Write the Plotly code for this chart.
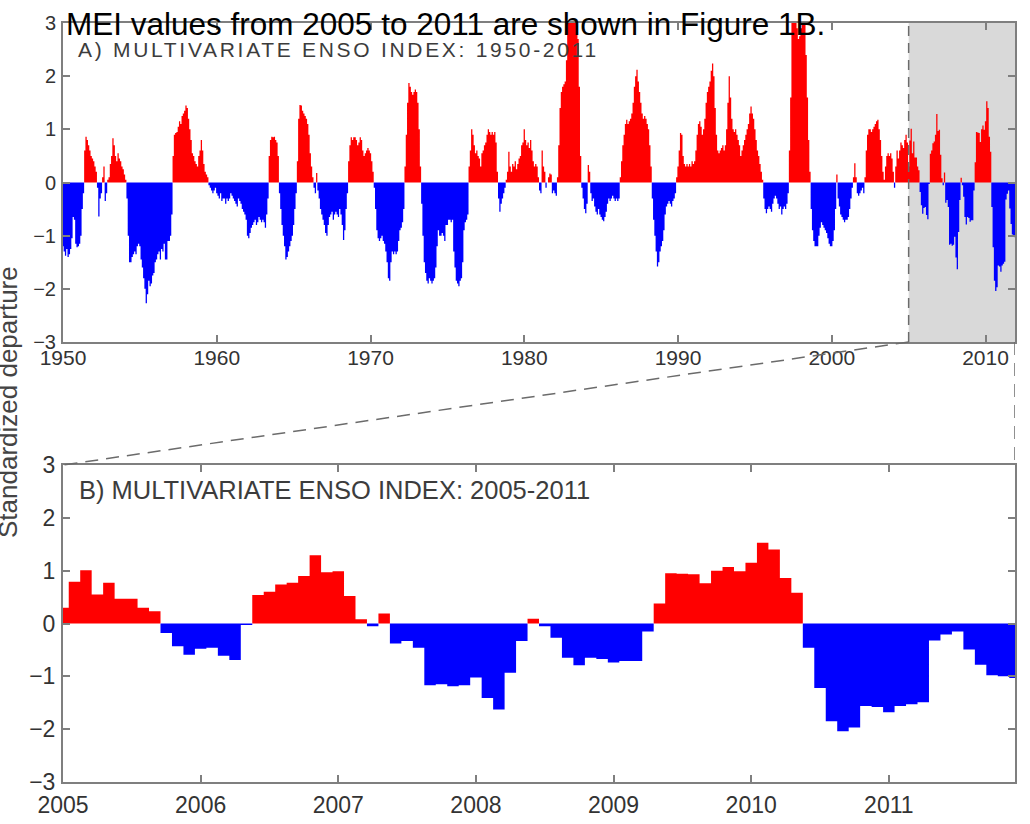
import numpy as np
import plotly.graph_objects as go

# ---------------- data (monthly MEI) ----------------
mei_1950s = [
    -1.20, -1.30, -1.38, -1.25, -1.40, -1.35, -1.25, -1.05, -0.65, -0.70, -1.15, -1.22,
    -1.20, -1.15, -1.00, -0.50, -0.20, 0.60, 0.86, 0.80, 0.70, 0.60, 0.50, 0.45,
    0.40, 0.30, 0.20, -0.10, -0.64, -0.30, -0.20, 0.10, 0.30, -0.35, -0.20, 0.05,
    0.10, 0.35, 0.50, 0.83, 0.70, 0.50, 0.40, 0.55, 0.45, 0.40, 0.30, 0.25,
    0.15, 0.05, -0.30, -1.00, -1.50, -1.50, -1.40, -1.35, -1.30, -1.35, -1.20, -1.15,
    -1.20, -1.45, -1.60, -1.80, -2.00, -2.27, -2.10, -1.85, -1.95, -1.90, -1.75, -1.70,
    -1.50, -1.45, -1.35, -1.30, -1.45, -1.25, -1.30, -1.15, -1.45, -1.45, -1.10, -1.10,
    -1.00, -0.60, 0.50, 0.90, 0.93, 0.95, 1.05, 1.15, 1.10, 1.25, 1.30, 1.35,
    1.45, 1.40, 1.20, 1.00, 0.80, 0.55, 0.50, 0.40, 0.35, 0.30, 0.50, 0.60,
    0.80, 0.60, 0.35, 0.20, 0.15, 0.10, -0.05, -0.10, -0.15, -0.20, -0.15, -0.10,
]
mei_1960s = [
    -0.20, -0.25, -0.30, -0.20, -0.35, -0.30, -0.30, -0.40, -0.30, -0.35, -0.30, -0.20,
    -0.25, -0.30, -0.35, -0.40, -0.45, -0.30, -0.35, -0.40, -0.50, -0.55, -0.60, -0.70,
    -1.00, -1.05, -0.95, -0.85, -0.80, -0.75, -0.70, -0.80, -0.75, -0.65, -0.70, -0.75,
    -0.70, -0.75, -0.85, -0.60, -0.30, 0.50, 0.80, 0.86, 0.85, 0.86, 0.80, 0.75,
    0.50, -0.20, -0.50, -0.80, -1.00, -1.20, -1.45, -1.40, -1.30, -1.20, -1.10, -1.00,
    -0.80, -0.50, -0.20, 0.40, 1.20, 1.46, 1.45, 1.35, 1.30, 1.25, 1.20, 1.10,
    0.90, 0.55, 0.30, 0.10, -0.10, -0.20, 0.18, -0.15, -0.30, -0.50, -0.60, -0.70,
    -0.80, -0.95, -1.00, -0.80, -0.65, -0.60, -0.55, -0.70, -0.60, -0.55, -0.60, -0.65,
    -0.50, -0.60, -0.80, -1.08, -0.90, -0.50, -0.20, 0.40, 0.70, 0.85, 0.80, 0.85,
    0.85, 0.80, 0.70, 0.75, 0.85, 0.80, 0.60, 0.50, 0.55, 0.60, 0.65, 0.60,
]
mei_1970s = [
    0.55, 0.40, 0.20, -0.10, -0.50, -0.90, -1.05, -1.10, -1.05, -1.00, -1.10, -1.15,
    -1.30, -1.50, -1.80, -1.85, -1.50, -1.30, -1.35, -1.30, -1.35, -1.30, -1.10, -0.90,
    -0.85, -0.75, -0.50, 0.30, 0.90, 1.50, 1.87, 1.80, 1.70, 1.65, 1.70, 1.75,
    1.70, 1.50, 1.00, 0.30, -0.40, -1.00, -1.50, -1.70, -1.85, -1.90, -1.80, -1.85,
    -1.90, -1.85, -1.80, -1.60, -1.20, -0.90, -1.00, -1.00, -0.95, -1.00, -1.10, -0.80,
    -0.80, -0.70, -0.70, -0.75, -0.70, -1.30, -1.60, -1.85, -1.90, -1.95, -1.85, -1.80,
    -1.50, -0.90, -0.75, -0.70, -0.60, 0.30, 0.60, 1.00, 0.90, 0.70, 0.55, 0.60,
    0.50, 0.45, 0.30, 0.55, 0.60, 0.70, 0.75, 0.90, 1.00, 0.95, 0.90, 0.95,
    0.90, 0.95, 0.75, 0.20, -0.30, -0.55, -0.40, -0.30, -0.20, -0.10, 0.05, 0.20,
    0.58, 0.30, 0.20, 0.35, 0.30, 0.40, 0.25, 0.35, 0.45, 0.50, 0.70, 0.75,
]
mei_1980s = [
    1.00, 0.80, 0.70, 0.75, 0.65, 0.80, 0.60, 0.40, 0.30, 0.35, 0.30, 0.10,
    -0.15, -0.20, 0.60, 0.30, 0.20, -0.10, 0.00, 0.10, 0.17, 0.15, -0.20, -0.15,
    -0.20, -0.25, 0.10, 0.70, 1.40, 1.70, 1.80, 1.85, 1.90, 2.30, 3.00, 3.05,
    3.05, 3.10, 3.10, 3.05, 3.00, 2.95, 2.70, 1.80, 0.50, -0.10, -0.30, -0.50,
    -0.58, -0.40, 0.33, 0.20, -0.20, -0.35, -0.30, -0.45, -0.55, -0.60, -0.50, -0.60,
    -0.65, -0.70, -0.73, -0.65, -0.55, -0.40, -0.30, -0.35, -0.30, -0.25, -0.30, -0.35,
    -0.30, -0.35, -0.30, 0.10, 0.40, 0.70, 0.90, 1.10, 1.18, 1.10, 1.15, 1.20,
    1.30, 1.50, 1.80, 2.00, 2.12, 1.90, 1.70, 1.50, 1.30, 1.20, 1.25, 1.20,
    1.10, 1.00, 0.70, 0.30, -0.30, -0.70, -1.00, -1.30, -1.58, -1.50, -1.30, -1.20,
    -1.10, -0.90, -0.60, -0.45, -0.40, -0.35, -0.40, -0.45, -0.35, -0.30, -0.20, 0.10,
]
mei_1990s = [
    0.30, 0.60, 0.93, 0.90, 0.50, 0.35, 0.30, 0.35, 0.30, 0.35, 0.30, 0.40,
    0.35, 0.40, 0.60, 0.90, 1.10, 1.15, 1.05, 0.90, 1.00, 1.20, 1.50, 1.70,
    1.80, 1.90, 2.10, 2.24, 2.00, 1.40, 0.90, 0.60, 0.55, 0.60, 0.65, 0.70,
    0.60, 0.70, 1.00, 1.50, 2.00, 1.60, 1.20, 1.00, 0.95, 1.00, 0.90, 0.80,
    0.70, 0.50, 0.60, 0.70, 0.80, 0.90, 1.00, 1.10, 1.30, 1.43, 1.30, 1.20,
    1.00, 0.80, 0.60, 0.50, 0.35, 0.20, 0.05, -0.30, -0.50, -0.58, -0.50, -0.45,
    -0.50, -0.55, -0.40, -0.30, -0.25, -0.30, -0.40, -0.50, -0.45, -0.60, -0.50, -0.45,
    -0.50, -0.40, -0.20, 0.60, 1.60, 3.00, 3.05, 3.10, 3.05, 2.90, 2.70, 2.75,
    2.90, 3.05, 3.10, 3.05, 2.40, 1.60, 0.80, 0.20, -0.50, -0.90, -1.10, -1.20,
    -1.20, -1.20, -1.00, -0.85, -0.75, -0.80, -0.85, -0.90, -0.95, -1.05, -1.15, -1.20,
]
mei_2000_2004 = [
    -1.20, -1.10, -0.90, -0.50, 0.15, -0.30, -0.45, -0.60, -0.65, -0.70, -0.75, -0.70,
    -0.70, -0.65, -0.50, -0.30, -0.10, 0.10, 0.36, 0.10, -0.20, -0.25, -0.20, -0.15,
    -0.10, -0.20, 0.10, 0.60, 0.90, 1.00, 1.00, 0.95, 1.00, 1.05, 1.10, 1.15,
    1.18, 1.00, 0.80, 0.50, 0.20, 0.05, 0.30, 0.50, 0.55, 0.50, 0.55, 0.45,
    0.20, -0.10, 0.30, 0.60, 0.45, 0.60, 0.75, 0.70, 0.65, 0.80, 0.90, 0.75,
]
mei_2005_2011 = [
    0.30, 0.79, 1.01, 0.55, 0.77, 0.47, 0.47, 0.30, 0.23, -0.18, -0.43, -0.59,
    -0.48, -0.46, -0.61, -0.69, -0.03, 0.54, 0.60, 0.74, 0.77, 0.90, 1.29, 0.97,
    0.99, 0.52, 0.08, -0.05, 0.19, -0.38, -0.33, -0.46, -1.17, -1.15, -1.19, -1.17,
    -1.02, -1.41, -1.63, -0.93, -0.33, 0.09, -0.05, -0.27, -0.65, -0.79, -0.65, -0.67,
    -0.74, -0.71, -0.71, -0.15, 0.38, 0.95, 0.94, 0.93, 0.76, 1.00, 1.07, 0.99,
    1.15, 1.53, 1.40, 0.86, 0.58, -0.46, -1.22, -1.85, -2.04, -1.97, -1.56, -1.58,
    -1.68, -1.56, -1.53, -1.49, -0.32, -0.21, -0.15, -0.49, -0.78, -0.98, -1.00, -1.03,
]
start_a, start_b, x_end = 1950, 2005, 2011 + 11 / 12
ticks_a = list(range(1950, 2011, 10))
ticks_b = list(range(2005, 2012))
y_ticks = [-3, -2, -1, 0, 1, 2, 3]
title_a = "A) MULTIVARIATE ENSO INDEX: 1950-2011"
title_b = "B) MULTIVARIATE ENSO INDEX: 2005-2011"
headline = "MEI values from 2005 to 2011 are shown in Figure 1B."
ylabel = "Standardized departure"

# ---------------- build ----------------
W, H = 1030, 824
mei_all = np.array(mei_1950s + mei_1960s + mei_1970s + mei_1980s + mei_1990s
                   + mei_2000_2004 + mei_2005_2011)
mei_b = np.array(mei_2005_2011)
xa = start_a + np.arange(len(mei_all)) / 12.0
xb = start_b + np.arange(len(mei_b)) / 12.0

RED, BLUE = "#ff0000", "#0000ff"
AX = "#7f7f7f"
TXT = "#333333"
FONT = "Liberation Sans, Arial, Helvetica, sans-serif"

xdom = [63 / W, 1015 / W]
ydom_a = [1 - 342 / H, 1 - 23 / H]
ydom_b = [1 - 782 / H, 1 - 465 / H]

fig = go.Figure()


def add_series(x, v, xa_name, ya_name):
    pos = np.where(v > 0, v, 0.0)
    neg = np.where(v < 0, v, 0.0)
    for vals, col in ((pos, RED), (neg, BLUE)):
        fig.add_trace(go.Scatter(
            x=x, y=vals, mode="lines", line=dict(width=0, shape="hvh"),
            fill="tozeroy", fillcolor=col, xaxis=xa_name, yaxis=ya_name,
            hoverinfo="skip", showlegend=False))


add_series(xa, mei_all, "x", "y")
add_series(xb, mei_b, "x2", "y2")

axis_common = dict(showgrid=False, zeroline=False, showline=True, linecolor=AX,
                   linewidth=2, mirror="ticks", ticks="inside", ticklen=7,
                   tickwidth=1.5, tickcolor=AX, automargin=False)

fig.update_layout(
    template="none",
    width=W, height=H, margin=dict(l=0, r=0, t=0, b=0, pad=0, autoexpand=False),
    paper_bgcolor="white", plot_bgcolor="white",
    font=dict(family=FONT, color=TXT),
    xaxis=dict(domain=xdom, range=[start_a, x_end], tickvals=ticks_a,
               tickfont=dict(size=21), anchor="y", ticklabelstandoff=-4, **axis_common),
    yaxis=dict(domain=ydom_a, range=[-3, 3], tickvals=y_ticks,
               tickfont=dict(size=20), anchor="x", ticklabelstandoff=1, **axis_common),
    xaxis2=dict(domain=xdom, range=[start_b, x_end], tickvals=ticks_b,
                tickfont=dict(size=23), anchor="y2", ticklabelstandoff=1, **axis_common),
    yaxis2=dict(domain=ydom_b, range=[-3, 3], tickvals=y_ticks,
                tickfont=dict(size=23), anchor="x2", ticklabelstandoff=1, **axis_common),
)

dash_col = "#6b6b6b"
fig.add_shape(type="rect", xref="x", yref="y", x0=start_b, x1=x_end, y0=-3, y1=3,
              fillcolor="#d9d9d9", line=dict(width=0), layer="below")
fig.add_shape(type="line", xref="x", yref="y", x0=start_b, x1=start_b, y0=-3, y1=3,
              line=dict(color=dash_col, width=1.5, dash="10px,7px"))
fig.add_shape(type="line", xref="x", yref="paper", x0=start_b, y0=ydom_a[0],
              x1=start_a, y1=ydom_b[1],
              line=dict(color=dash_col, width=1.5, dash="13px,8px"))
fig.add_shape(type="line", xref="x", yref="paper", x0=x_end, y0=ydom_a[0],
              x1=x_end, y1=ydom_b[1],
              line=dict(color=dash_col, width=1.5, dash="13px,8px"))

fig.add_annotation(text='<span style="letter-spacing:2.7px">' + title_a + '</span>',
                   xref="paper", yref="paper", x=77 / W, y=1 - 49 / H,
                   xanchor="left", yanchor="middle", showarrow=False, borderpad=0,
                   font=dict(size=21, color="#3c3c3c"))
fig.add_annotation(text=title_b, xref="paper", yref="paper", x=77 / W, y=1 - 490 / H,
                   xanchor="left", yanchor="middle", showarrow=False,
                   font=dict(size=25.5, color="#3c3c3c"))
fig.add_annotation(text=headline, xref="paper", yref="paper", x=65 / W, y=1 - 24 / H,
                   xanchor="left", yanchor="middle", showarrow=False, borderpad=0,
                   font=dict(size=31.5, color="#000000"))
fig.add_annotation(text=ylabel, xref="paper", yref="paper", x=8 / W, y=1 - 402 / H,
                   xanchor="center", yanchor="middle", showarrow=False, textangle=-90,
                   font=dict(size=26, color="#444444"))

fig.write_html("out.html", config={"displayModeBar": False},
               post_script="document.body.style.margin='0px';document.body.style.padding='0px';")
